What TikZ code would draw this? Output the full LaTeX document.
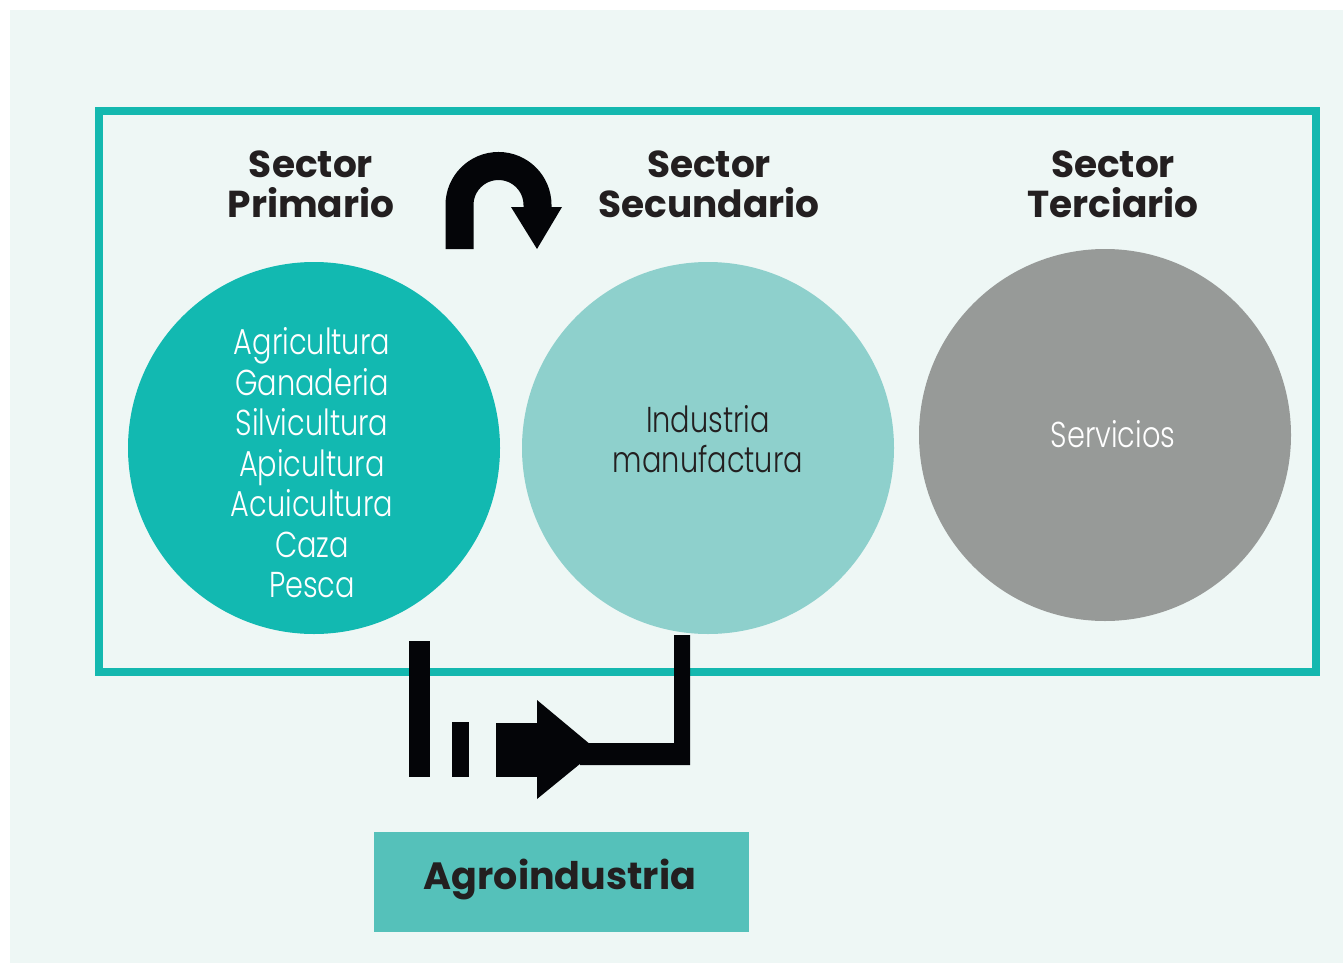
\documentclass[tikz,border=0pt]{standalone}
\usepackage{fontspec}
\setmainfont{Poppins}
\newfontfamily\lightfont{Poppins}[UprightFont=* Light, FakeStretch=0.8]
\newfontfamily\boldfont{Poppins}[UprightFont=* Bold]
\definecolor{prim}{HTML}{12B9B1}
\definecolor{secc}{HTML}{8ED0CC}
\definecolor{terc}{HTML}{979A98}
\definecolor{panel}{HTML}{EEF7F5}
\definecolor{frame}{HTML}{14B8AF}
\definecolor{boxc}{HTML}{55C1BA}
\definecolor{ink}{HTML}{231F20}
\definecolor{arrowc}{HTML}{040508}
\tikzset{
  sectorcirc/.style={circle, minimum size=372pt, inner sep=0pt},
  heading/.style={align=center, text=ink, font=\boldfont\fontsize{37.5}{40}\selectfont},
  circtext/.style={align=center, font=\lightfont\fontsize{36}{40.5}\selectfont},
}
\begin{document}
\begin{tikzpicture}[x=1pt,y=-1pt]
\useasboundingbox (0,0) rectangle (1343,963);
\fill[white] (0,0) rectangle (1343,963);
\fill[panel] (10,10) rectangle (1343,963);
\draw[frame, line width=8pt] (99,111) rectangle (1316,672);

\node[sectorcirc, fill=prim] (prim) at (314,448) {};
\node[sectorcirc, fill=secc] (sec) at (708,448) {};
\node[sectorcirc, fill=terc] (ter) at (1105,435) {};

\node[heading] (hprim) at (311,184) {Sector\\Primario};
\node[heading] (hsec) at (709,184) {Sector\\Secundario};
\node[heading] (hter) at (1113,184) {Sector\\Terciario};

\node[circtext, text=white] (tprim) at (312,463) {Agricultura\\Ganaderia\\Silvicultura\\Apicultura\\Acuicultura\\Caza\\Pesca};
\node[circtext, text=ink] (tsec) at (708,439) {Industria\\manufactura};
\node[circtext, text=white] (tter) at (1113,434) {Servicios};

\node[fill=boxc, minimum width=375pt, minimum height=100pt, inner sep=0pt] (agro) at (561.5,882) {};
\node[text=ink, font=\boldfont\fontsize{38}{38}\selectfont] (agrotext) at (560,879) {Agroindustria};

% U-turn arrow
\draw[arrowc, line width=28pt] (459.5,249) -- (459.5,205) arc[start angle=180, end angle=360, radius=39] -- (537.5,208);
\fill[arrowc] (511,207) -- (562,207) -- (537,249) -- cycle;

% bottom arrow
\fill[arrowc] (409,641) rectangle (430,777);
\fill[arrowc] (452,722) rectangle (469,777);
\fill[arrowc] (496,723) rectangle (545,777);
\fill[arrowc] (537,700) -- (597,750) -- (537,799) -- cycle;
\fill[arrowc] (674,635) -- (690,635) -- (690,765) -- (580,765) -- (580,743) -- (674,743) -- cycle;
\end{tikzpicture}
\end{document}
